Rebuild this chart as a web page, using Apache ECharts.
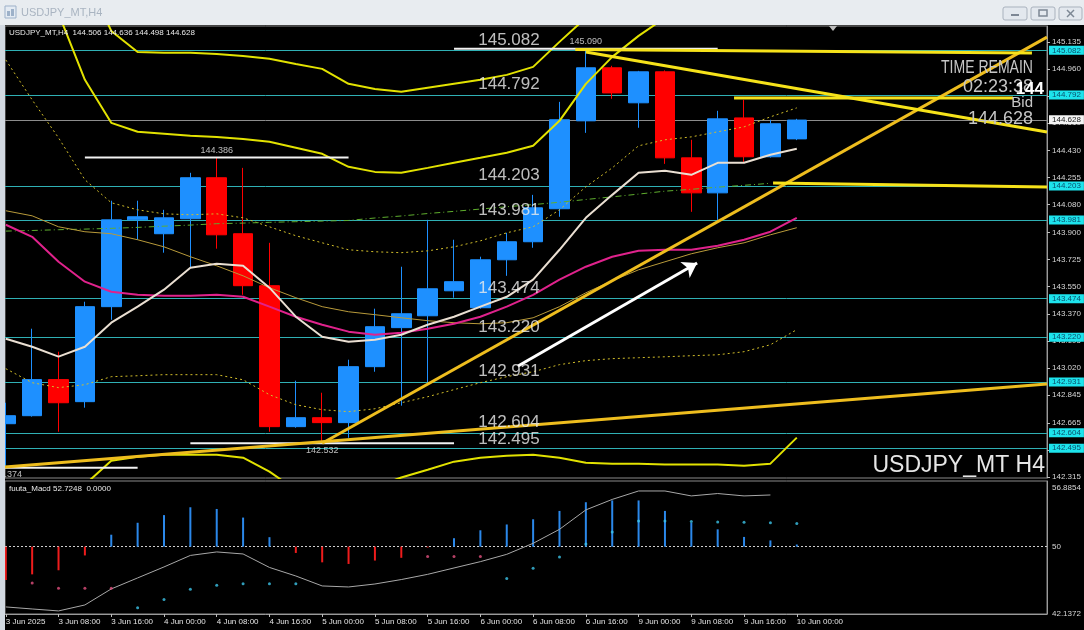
<!DOCTYPE html>
<html>
<head>
<meta charset="utf-8">
<title>USDJPY_MT,H4</title>
<script src="https://cdn.jsdelivr.net/npm/echarts@6/dist/echarts.min.js"></script>
<style>
  html, body { margin: 0; padding: 0; background: #000; }
  #chart { width: 1084px; height: 630px; }
</style>
</head>
<body>
<div id="chart"></div>
<script>
// H4 bars, index 0 = 3 Jun 00:00 ... index 30 = 10 Jun 00:00
var tickIdx = [0, 2, 4, 6, 8, 10, 12, 14, 16, 18, 20, 22, 24, 26, 28, 30];
var tickLabels = ['3 Jun 2025', '3 Jun 08:00', '3 Jun 16:00', '4 Jun 00:00', '4 Jun 08:00', '4 Jun 16:00',
    '5 Jun 00:00', '5 Jun 08:00', '5 Jun 16:00', '6 Jun 00:00', '6 Jun 08:00', '6 Jun 16:00',
    '9 Jun 00:00', '9 Jun 08:00', '9 Jun 16:00', '10 Jun 00:00'];
var priceTicks = [142.315, 142.490, 142.665, 142.845, 143.020, 143.195, 143.370, 143.550, 143.725,
    143.900, 144.080, 144.255, 144.430, 144.610, 144.785, 144.960, 145.135];

var opens  = [142.659, 142.711, 142.945, 142.802, 143.418, 143.981, 143.891, 143.988, 144.254, 143.891, 143.554,
    142.640, 142.698, 142.666, 143.029, 143.282, 143.359, 143.521, 143.411, 143.722, 143.839,
    144.053, 144.623, 144.967, 144.740, 144.941, 144.383, 144.156, 144.642, 144.390, 144.506];
var closes = [142.711, 142.945, 142.795, 143.418, 143.981, 144.001, 143.994, 144.254, 143.884, 143.554, 142.640,
    142.698, 142.666, 143.029, 143.288, 143.372, 143.534, 143.580, 143.722, 143.839, 144.059,
    144.630, 144.967, 144.804, 144.941, 144.383, 144.156, 144.636, 144.390, 144.604, 144.628];
var lows   = [142.374, 142.705, 142.607, 142.763, 143.333, 143.852, 143.768, 143.670, 143.794, 143.495, 142.607,
    142.633, 142.532, 142.568, 142.996, 142.776, 142.925, 143.476, 143.405, 143.618, 143.800,
    144.001, 144.545, 144.766, 144.578, 144.344, 144.033, 143.981, 144.357, 144.385, 144.498];
var highs  = [142.795, 143.275, 143.126, 143.450, 144.105, 144.105, 144.046, 144.286, 144.386, 144.318, 143.832,
    142.938, 142.860, 143.074, 143.405, 143.677, 143.981, 143.852, 143.742, 143.897, 144.143,
    144.746, 145.090, 144.980, 144.947, 144.950, 144.500, 144.688, 144.759, 144.630, 144.636];

// moving averages / bands
var maFast = [143.210, 143.158, 143.094, 143.158, 143.314, 143.418, 143.528, 143.670, 143.696, 143.683, 143.541,
    143.353, 143.223, 143.191, 143.204, 143.236, 143.301, 143.353, 143.418, 143.482, 143.593,
    143.787, 143.994, 144.143, 144.286, 144.299, 144.273, 144.351, 144.351, 144.403, 144.442];
var maMid = [143.949, 143.871, 143.709, 143.580, 143.515, 143.495, 143.489, 143.489, 143.495, 143.482, 143.418,
    143.353, 143.301, 143.256, 143.236, 143.249, 143.275, 143.307, 143.353, 143.418, 143.495,
    143.593, 143.677, 143.742, 143.780, 143.787, 143.787, 143.813, 143.852, 143.904, 143.994];
var maSlow = [144.040, 144.007, 143.936, 143.904, 143.891, 143.852, 143.806, 143.742, 143.683, 143.618, 143.541,
    143.476, 143.418, 143.385, 143.366, 143.346, 143.327, 143.314, 143.307, 143.314, 143.346,
    143.418, 143.508, 143.586, 143.657, 143.709, 143.761, 143.800, 143.832, 143.884, 143.930];
var maLong = [143.908, 143.912, 143.917, 143.921, 143.926, 143.932, 143.940, 143.947, 143.956, 143.960, 143.965,
    143.969, 143.973, 143.977, 143.993, 144.006, 144.022, 144.036, 144.051, 144.066, 144.080,
    144.095, 144.113, 144.130, 144.148, 144.167, 144.179, 144.193, 144.205, 144.218, null];
var band1Up = [145.018, 144.759, 144.513, 144.241, 144.092, 144.046, 144.020, 144.014, 144.020, 143.994, 143.936,
    143.878, 143.832, 143.787, 143.774, 143.768, 143.780, 143.806, 143.845, 143.897, 143.936,
    144.046, 144.195, 144.318, 144.461, 144.500, 144.519, 144.552, 144.584, 144.649, 144.707];
var band1Dn = [143.016, 142.925, 142.893, 142.912, 142.964, 142.970, 142.977, 142.977, 142.977, 142.944, 142.847,
    142.782, 142.750, 142.737, 142.756, 142.795, 142.834, 142.880, 142.925, 142.964, 142.996,
    143.042, 143.068, 143.081, 143.087, 143.093, 143.100, 143.106, 143.126, 143.171, 143.269];
var band2Up = [146.02, 145.68, 145.32, 144.889, 144.610, 144.552, 144.539, 144.526, 144.519, 144.506, 144.487,
    144.448, 144.409, 144.325, 144.292, 144.286, 144.318, 144.351, 144.383, 144.416, 144.461,
    144.623, 144.863, 145.038, 145.174, 145.291, 145.26, 145.30, 145.33, 145.39, 145.43];
var band2Dn = [142.02, 142.01, 142.08, 142.264, 142.419, 142.445, 142.458, 142.458, 142.458, 142.439, 142.348,
    142.23, 142.21, 142.21, 142.25, 142.31, 142.36, 142.413, 142.439, 142.452, 142.458,
    142.439, 142.406, 142.400, 142.400, 142.394, 142.394, 142.394, 142.387, 142.400, 142.569];
var band3Up = [146.9, 146.4, 146.13, 145.57, 145.206, 145.070, 145.064, 145.064, 145.057, 145.044, 145.025,
    144.992, 144.960, 144.863, 144.830, 144.811, 144.837, 144.863, 144.889, 144.921, 144.973,
    145.135, 145.291, 145.41, 145.6, null, null, null, null, null, null];

// drawn objects
var levels = [145.082, 144.792, 144.203, 143.981, 143.474, 143.220, 142.931, 142.604, 142.495];
var bidPrice = 144.628;
var swingIdx = [0, 8, 12, 22];
var swingPrice = [142.374, 144.386, 142.532, 145.090];
var swingHigh = [false, true, false, true];
var supportLines = [[-0.03, 142.378, 39.49, 142.916], [12, 142.532, 39.49, 145.166]];
var resistLines = [[22, 145.070, 39.49, 144.550], [21.6, 145.085, 38.92, 145.063],
    [27.62, 144.771, 38.2, 144.771], [29.1, 144.220, 39.49, 144.194]];
var arrowLine = [19.43, 143.033, 26.22, 143.701];

// fuuta_Macd sub window
var macdHist = [46.10, 46.75, 47.23, 48.97, 51.40, 52.80, 53.70, 54.62, 54.42, 53.41, 51.11,
    49.26, 48.16, 47.97, 48.37, 48.69, 49.90, 50.99, 51.92, 52.60, 53.21,
    54.19, 55.21, 55.42, 55.42, 54.19, 52.78, 52.03, 51.14, 50.73, 50.25];
var macdLine = [42.93, 42.69, 42.46, 43.16, 45.04, 46.33, 47.62, 48.97, 49.38, 49.14, 47.56,
    46.56, 45.39, 45.27, 45.62, 46.14, 46.75, 47.50, 48.24, 49.10, 50.39,
    52.03, 54.31, 55.54, 56.53, 56.53, 55.95, 56.23, 55.95, 56.06, null];
var dotPink = [null, 45.74, 45.13, 45.13, 45.13, null, null, null, null, null, null,
    null, null, null, null, null, 48.85, 48.85, 48.85, null, null,
    null, null, null, null, null, null, null, null, null, null];
var dotCyan = [null, null, null, null, null, 42.83, 43.79, 45.01, 45.46, 45.66, 45.66,
    45.66, null, null, null, null, null, null, null, 46.27, 47.48,
    48.79, 50.32, 51.72, 53.01, 53.00, 52.95, 52.90, 52.85, 52.80, 52.72];
var macdTicks = [42.1372, 50, 56.8854];

var xMin = -0.03, xMax = 39.49;
var FONT = '"Liberation Sans", Arial, sans-serif';

function pairs(arr) {
    return arr.map(function (v, i) { return [i, v]; });
}

function lineSeries(values, color, width, type, z) {
    return {
        type: 'line', xAxisIndex: 0, yAxisIndex: 0, data: pairs(values),
        showSymbol: false, symbol: 'none', silent: true, clip: true, z: z || 3,
        lineStyle: { color: color, width: width, type: type || 'solid' }
    };
}

function segSeries(seg, color, width, z) {
    return {
        type: 'line', xAxisIndex: 0, yAxisIndex: 0,
        data: [[seg[0], seg[1]], [seg[2], seg[3]]],
        showSymbol: false, symbol: 'none', silent: true, clip: true, z: z || 4,
        lineStyle: { color: color, width: width }
    };
}

var chart = echarts.init(document.getElementById('chart'));

var levelMarks = levels.map(function (p) {
    return {
        yAxis: p,
        lineStyle: { color: '#2fb0b4', width: 1, type: 'solid' },
        label: {
            show: true, position: 'end', distance: 2, formatter: p.toFixed(3),
            backgroundColor: '#1de3ec', color: '#0b4f6c', fontSize: 8, fontFamily: FONT,
            padding: [1, 3, 0, 3]
        }
    };
});
levelMarks.push({
    yAxis: bidPrice,
    lineStyle: { color: '#8c8c8c', width: 1, type: 'solid' },
    label: {
        show: true, position: 'end', distance: 2, formatter: bidPrice.toFixed(3),
        backgroundColor: '#f4f4f4', color: '#202020', fontSize: 8, fontFamily: FONT,
        padding: [1, 3, 0, 3]
    }
});

var series = [];

// candles with horizontal levels behind them
series.push({
    type: 'candlestick', xAxisIndex: 0, yAxisIndex: 0, z: 2, silent: true,
    barWidth: 20,
    data: opens.map(function (o, i) { return [i, o, closes[i], lows[i], highs[i]]; }),
    itemStyle: { color: '#1e90ff', color0: '#ff0000', borderColor: '#1e90ff', borderColor0: '#ff0000', borderWidth: 1 },
    markLine: { silent: true, symbol: 'none', z: 1, animation: false, data: levelMarks }
});

series.push(lineSeries(band3Up, '#e2e200', 2));
series.push(lineSeries(band2Up, '#e2e200', 2));
series.push(lineSeries(band2Dn, '#e2e200', 2));
series.push(lineSeries(band1Up, '#d2be2a', 1, [2, 3]));
series.push(lineSeries(band1Dn, '#d2be2a', 1, [2, 3]));
series.push(lineSeries(maLong, '#5fae2e', 1, [6, 3, 1, 3]));
series.push(lineSeries(maSlow, '#b89a3a', 1));
series.push(lineSeries(maMid, '#e0228c', 2));
series.push(lineSeries(maFast, '#eadfd2', 2));

// swing high / low marks
swingIdx.forEach(function (idx, k) {
    series.push(segSeries([idx - 5, swingPrice[k], idx + 5, swingPrice[k]], '#f2f2f2', 2, 4));
});
series.push({
    type: 'scatter', xAxisIndex: 0, yAxisIndex: 0, silent: true, z: 5,
    symbolSize: 1, itemStyle: { color: 'rgba(0,0,0,0)' },
    data: swingIdx.map(function (idx, k) {
        return {
            value: [idx, swingPrice[k]],
            label: {
                show: true, position: swingHigh[k] ? 'top' : 'bottom', distance: 2,
                formatter: swingPrice[k].toFixed(3), color: '#e6e6e6', fontSize: 9, fontFamily: FONT
            }
        };
    })
});

// trend lines
supportLines.forEach(function (s) { series.push(segSeries(s, '#eebd1e', 3, 4)); });
resistLines.forEach(function (s) { series.push(segSeries(s, '#f6e21a', 3, 4)); });

// big level captions
series.push({
    type: 'scatter', xAxisIndex: 0, yAxisIndex: 0, silent: true, z: 6,
    symbolSize: 1, itemStyle: { color: 'rgba(0,0,0,0)' },
    data: levels.map(function (p) { return [17.9, p]; }),
    label: {
        show: true, position: 'right', distance: 0, offset: [0, -10],
        formatter: function (d) { return d.value[1].toFixed(3); },
        color: '#ececec', fontSize: 17, fontFamily: FONT
    }
});

// arrow
series.push({
    type: 'line', xAxisIndex: 0, yAxisIndex: 0, data: [], silent: true,
    markLine: {
        silent: true, animation: false, z: 7, symbol: ['none', 'arrow'], symbolSize: 14,
        label: { show: false },
        lineStyle: { color: '#ffffff', width: 3, type: 'solid' },
        itemStyle: { color: '#ffffff' },
        data: [[{ coord: [arrowLine[0], arrowLine[1]] }, { coord: [arrowLine[2], arrowLine[3]] }]]
    }
});

// MACD window
series.push({
    type: 'custom', xAxisIndex: 1, yAxisIndex: 1, clip: true, silent: true, z: 3,
    data: pairs(macdHist),
    renderItem: function (params, api) {
        var i = api.value(0), v = api.value(1);
        var a = api.coord([i, 50]), b = api.coord([i, v]);
        return {
            type: 'line',
            shape: { x1: a[0], y1: a[1], x2: b[0], y2: b[1] },
            style: { stroke: v >= 50 ? '#2b88ea' : '#ee1c1c', lineWidth: 2 }
        };
    }
});
series.push({
    type: 'line', xAxisIndex: 1, yAxisIndex: 1, data: pairs(macdLine), silent: true, z: 4,
    showSymbol: false, symbol: 'none', lineStyle: { color: '#a8a8a8', width: 1 },
    markLine: {
        silent: true, symbol: 'none', animation: false, z: 2, label: { show: false },
        lineStyle: { color: '#cfcfcf', width: 1, type: [2, 2] },
        data: [{ yAxis: 50 }]
    }
});
series.push({
    type: 'scatter', xAxisIndex: 1, yAxisIndex: 1, data: pairs(dotPink), silent: true, z: 5,
    symbolSize: 3, itemStyle: { color: '#e2507e' }
});
series.push({
    type: 'scatter', xAxisIndex: 1, yAxisIndex: 1, data: pairs(dotCyan), silent: true, z: 5,
    symbolSize: 3, itemStyle: { color: '#3cc4e8' }
});

function txt(x, y, text, size, color, align, extra) {
    var el = {
        type: 'text', x: x, y: y, z: 120,
        style: {
            x: 0, y: 0, text: text, fill: color, align: align || 'left', verticalAlign: 'middle',
            font: size + 'px ' + FONT
        }
    };
    if (extra) {
        for (var k in extra) el[k] = extra[k];
    }
    return el;
}

var graphics = [
    { type: 'rect', z: 100, shape: { x: 0, y: 0, width: 1084, height: 25 }, style: { fill: '#e8ecf0' } },
    { type: 'rect', z: 100, shape: { x: 0, y: 25, width: 5, height: 605 }, style: { fill: '#d2d9e1' } },
    { type: 'rect', z: 101, shape: { x: 5, y: 6, width: 11, height: 12 }, style: { fill: '#e4ebf3', stroke: '#9db1c9' } },
    { type: 'rect', z: 101, shape: { x: 7, y: 11, width: 3, height: 5 }, style: { fill: '#9db1c9' } },
    { type: 'rect', z: 101, shape: { x: 11, y: 9, width: 3, height: 7 }, style: { fill: '#9db1c9' } },
    txt(21, 13, 'USDJPY_MT,H4', 11, '#a9b4c1'),
    { type: 'rect', z: 101, shape: { x: 1003, y: 7, width: 24, height: 13, r: 2 }, style: { fill: '#e3e8ee', stroke: '#a9b2bd' } },
    { type: 'rect', z: 101, shape: { x: 1031, y: 7, width: 24, height: 13, r: 2 }, style: { fill: '#e3e8ee', stroke: '#a9b2bd' } },
    { type: 'rect', z: 101, shape: { x: 1059, y: 7, width: 23, height: 13, r: 2 }, style: { fill: '#e3e8ee', stroke: '#a9b2bd' } },
    { type: 'rect', z: 102, shape: { x: 1011, y: 14, width: 8, height: 2 }, style: { fill: '#7d8794' } },
    { type: 'rect', z: 102, shape: { x: 1039, y: 10, width: 8, height: 6 }, style: { fill: 'none', stroke: '#7d8794', lineWidth: 1.5 } },
    { type: 'line', z: 102, shape: { x1: 1067, y1: 10, x2: 1074, y2: 17 }, style: { stroke: '#7d8794', lineWidth: 1.5 } },
    { type: 'line', z: 102, shape: { x1: 1074, y1: 10, x2: 1067, y2: 17 }, style: { stroke: '#7d8794', lineWidth: 1.5 } },
    { type: 'polygon', z: 102, shape: { points: [[829, 26], [837, 26], [833, 31]] }, style: { fill: '#bdbdbd' } },
    txt(9, 33, 'USDJPY_MT,H4  144.506 144.636 144.498 144.628', 8, '#e8e8e8'),
    txt(9, 489, 'fuuta_Macd 52.7248  0.0000', 8, '#e8e8e8'),
    txt(1033, 68, 'TIME REMAIN', 18, '#c6c6c6', 'right', { scaleX: 0.78 }),
    txt(1033, 87, '02:23:38', 18, '#c6c6c6', 'right'),
    txt(1033, 103, 'Bid', 15, '#c6c6c6', 'right'),
    txt(1033, 119, '144.628', 18, '#c6c6c6', 'right'),
    {
        type: 'text', x: 1044, y: 89, z: 121,
        style: { x: 0, y: 0, text: '144', fill: '#ffffff', align: 'right', verticalAlign: 'middle', font: 'bold 17px ' + FONT }
    },
    txt(1045, 466, 'USDJPY_MT H4', 23, '#e6e6e6', 'right')
];

var option = {
    animation: false,
    backgroundColor: '#000000',
    graphic: graphics,
    grid: [
        { left: 5, right: 37, top: 26, height: 452, show: true, borderColor: '#8a8a8a', borderWidth: 1,
          backgroundColor: '#000', containLabel: false, outerBoundsMode: 'none' },
        { left: 5, right: 37, top: 481, height: 133, show: true, borderColor: '#8a8a8a', borderWidth: 1,
          backgroundColor: '#000', containLabel: false, outerBoundsMode: 'none' }
    ],
    xAxis: [
        { gridIndex: 0, type: 'value', min: xMin, max: xMax,
          axisLine: { show: false, onZero: false }, axisTick: { show: false }, axisLabel: { show: false }, splitLine: { show: false } },
        { gridIndex: 1, type: 'value', min: xMin, max: xMax,
          axisLine: { show: true, onZero: false, lineStyle: { color: '#9a9a9a' } },
          axisTick: { show: true, customValues: tickIdx, length: 3, lineStyle: { color: '#bdbdbd' } },
          axisLabel: {
              customValues: tickIdx, margin: 4, align: 'left', color: '#e2e2e2', fontSize: 8, fontFamily: FONT,
              formatter: function (v) { return tickLabels[tickIdx.indexOf(Math.round(v))]; }
          },
          splitLine: { show: false } }
    ],
    yAxis: [
        { gridIndex: 0, type: 'value', position: 'right', min: 142.307, max: 145.238,
          axisLine: { show: true, onZero: false, lineStyle: { color: '#9a9a9a' } },
          axisTick: { show: true, customValues: priceTicks, length: 3, lineStyle: { color: '#bdbdbd' } },
          axisLabel: { customValues: priceTicks, margin: 5, color: '#d6d6d6', fontSize: 8, fontFamily: FONT,
              formatter: function (v) { return v.toFixed(3); } },
          splitLine: { show: false } },
        { gridIndex: 1, type: 'value', position: 'right', min: 42.1, max: 57.7,
          axisLine: { show: true, onZero: false, lineStyle: { color: '#9a9a9a' } },
          axisTick: { show: false },
          axisLabel: { customValues: macdTicks, margin: 5, color: '#d6d6d6', fontSize: 8, fontFamily: FONT,
              formatter: function (v) { return v === 50 ? '50' : v.toFixed(4); } },
          splitLine: { show: false } }
    ],
    series: series
};

chart.setOption(option);
</script>
</body>
</html>
